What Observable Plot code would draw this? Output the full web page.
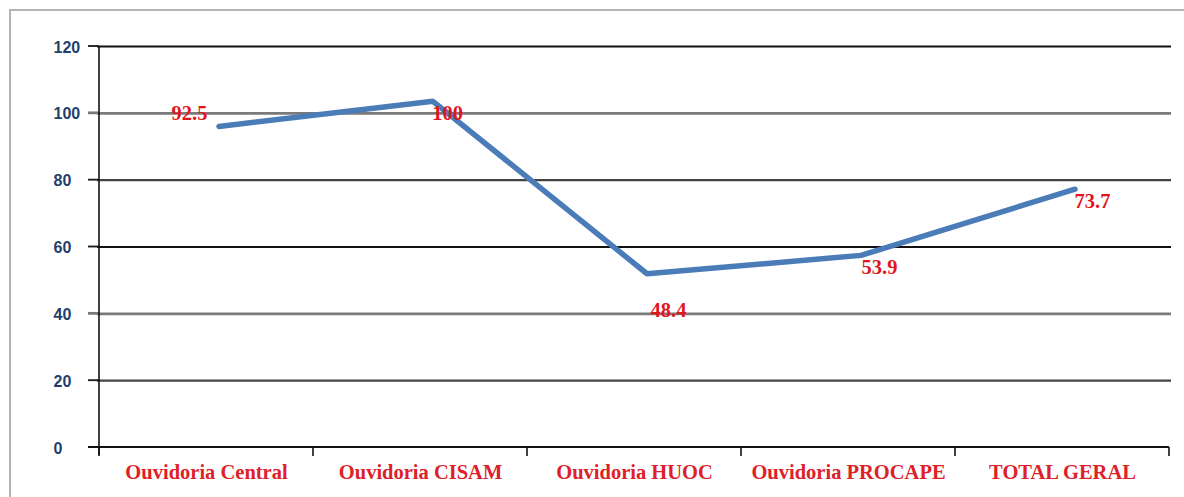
<!DOCTYPE html>
<html>
<head>
<meta charset="utf-8">
<script src="https://cdn.jsdelivr.net/npm/d3@7"></script>
<script src="https://cdn.jsdelivr.net/npm/@observablehq/plot@0.6"></script>
<style>
  html, body { margin: 0; padding: 0; background: #fff; }
  #wrap { position: relative; width: 1184px; height: 497px; overflow: hidden; }
  #frame { position: absolute; left: 9px; top: 9px; width: 1200px; height: 600px;
           border-top: 2px solid #b4b4b4; border-left: 2px solid #b4b4b4; }
  #chart { position: absolute; left: 0; top: 0; }
</style>
</head>
<body>
<div id="wrap"><div id="frame"></div><div id="chart"></div></div>
<script>
const categories = ["Ouvidoria Central", "Ouvidoria CISAM", "Ouvidoria HUOC", "Ouvidoria PROCAPE", "TOTAL GERAL"];
const values = [92.5, 100, 48.4, 53.9, 73.7];
const valueLabels = ["92.5", "100", "48.4", "53.9", "73.7"];
const yTicks = [0, 20, 40, 60, 80, 100, 120];

const data = categories.map((c, i) => ({cat: c, value: values[i], label: valueLabels[i]}));

// per-label placement offsets (styling, in px)
const labelOffsets = [[-17, -25], [27, 0], [34, 25], [31, 0], [30, 0]];

const serif = "'Liberation Serif', 'DejaVu Serif', serif";

const axisFrame = (index, scales, values, dims) => {
  const {x, y} = scales;
  const g = d3.create("svg:g").attr("fill", "none").attr("stroke", "#111");
  const x0 = x(categories[0]);
  const xEnd = x(categories[categories.length - 1]) + x.bandwidth();
  // y ticks to the left of the axis
  yTicks.forEach(t => {
    g.append("line").attr("x1", x0 - 11).attr("x2", x0).attr("y1", y(t)).attr("y2", y(t))
      .attr("stroke", t === 100 || t === 40 ? "#7a7a7a" : "#222").attr("stroke-width", t === 100 || t === 40 ? 2.8 : 1.9);
  });
  // left axis line
  g.append("line").attr("x1", x0).attr("x2", x0).attr("y1", y(120)).attr("y2", y(0) + 8).attr("stroke-width", 1.6);
  // bottom axis line
  g.append("line").attr("x1", x0 - 11).attr("x2", xEnd).attr("y1", y(0)).attr("y2", y(0)).attr("stroke-width", 2);
  // ticks at band boundaries
  const bounds = categories.map(c => x(c)).concat([xEnd]);
  bounds.forEach(b => {
    g.append("line").attr("x1", b).attr("x2", b).attr("y1", y(0)).attr("y2", y(0) + 9).attr("stroke-width", 1.6);
  });
  return g.node();
};

const marks = [
  Plot.ruleY([120, 60], {stroke: "#111", strokeWidth: 1.8}),
  Plot.ruleY([80, 20], {stroke: "#444", strokeWidth: 2.2}),
  Plot.ruleY([100, 40], {stroke: "#7a7a7a", strokeWidth: 2.8}),
  Plot.axisY({ticks: yTicks, tickSize: 0, tickPadding: 0, textAnchor: "start", dx: -44, dy: 1,
              fill: "#1f3f6e", fontSize: 16, fontWeight: "bold",
              fontFamily: "'Liberation Sans', Arial, sans-serif", label: null}),
  Plot.axisX({tickSize: 0, tickPadding: 17, fill: "#de2128", fontSize: 20.5, fontWeight: "bold",
              fontFamily: serif, label: null}),
  axisFrame,
  Plot.line(data, {x: "cat", y: "value", stroke: "#4a7cb8", strokeWidth: 5.5, dx: 12.5, dy: -12, strokeLinejoin: "miter"}),
  ...data.map((d, i) => Plot.text([d], {x: "cat", y: "value", text: "label", dx: labelOffsets[i][0], dy: labelOffsets[i][1],
              fill: "#e0161c", fontSize: 20.5, fontWeight: "bold", fontFamily: serif}))
];

const chart = Plot.plot({
  width: 1184,
  height: 497,
  marginLeft: 97,
  marginRight: 13,
  marginTop: 46,
  marginBottom: 50,
  style: {background: "transparent", overflow: "visible"},
  x: {type: "band", domain: categories, padding: 0},
  y: {domain: [0, 120]},
  marks
});
document.getElementById("chart").appendChild(chart);
</script>
</body>
</html>
